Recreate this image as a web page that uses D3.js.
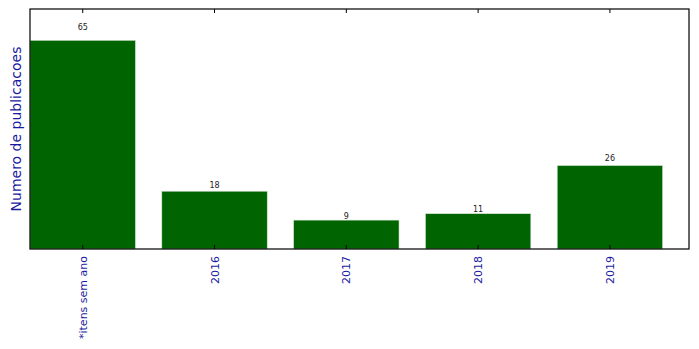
<!DOCTYPE html>
<html><head><meta charset="utf-8">
<script src="https://cdn.jsdelivr.net/npm/d3@7"></script>
<style>body{margin:0;background:#fff}svg{display:block}text{font-family:"DejaVu Sans",sans-serif}</style>
</head><body>
<script>
const categories = ["*itens sem ano", "2016", "2017", "2018", "2019"];
const values = [65, 18, 9, 11, 26];
const yLabel = "Numero de publicacoes";

const W = 699, H = 349;
const m = {left: 30, right: 10, top: 9, bottom: 100};
const iw = W - m.left - m.right, ih = H - m.top - m.bottom;

const svg = d3.select("body").append("svg").attr("width", W).attr("height", H);
const g = svg.append("g").attr("transform", `translate(${m.left},${m.top})`);

const bw = 0.8;
const x = d3.scaleLinear().domain([-bw / 2, categories.length - bw / 2]).range([0, iw]);
const y = d3.scaleLinear().domain([0, d3.max(values) * 1.15]).range([ih, 0]);

g.selectAll("rect.bar").data(values).join("rect").attr("class", "bar")
  .attr("x", (d, i) => x(i - bw / 2)).attr("width", x(bw) - x(0))
  .attr("y", d => y(d)).attr("height", d => ih - y(d))
  .attr("fill", "#006400").attr("stroke", "#d8e8d8").attr("stroke-width", 0.6);

g.selectAll("text.val").data(values).join("text").attr("class", "val")
  .attr("x", (d, i) => x(i)).attr("y", d => y(d * 1.05))
  .attr("text-anchor", "middle").attr("font-size", 8).attr("fill", "#222")
  .text(d => d);

// ticks inward top & bottom
const ticks = d3.range(categories.length);
g.selectAll("line.tb").data(ticks).join("line").attr("class", "tb")
  .attr("x1", d => x(d)).attr("x2", d => x(d)).attr("y1", ih).attr("y2", ih - 4)
  .attr("stroke", "#000").attr("stroke-width", 1);
g.selectAll("line.tt").data(ticks).join("line").attr("class", "tt")
  .attr("x1", d => x(d)).attr("x2", d => x(d)).attr("y1", 0).attr("y2", 4)
  .attr("stroke", "#000").attr("stroke-width", 1);

g.append("rect").attr("x", 0).attr("y", 0).attr("width", iw).attr("height", ih)
  .attr("fill", "none").attr("stroke", "#000").attr("stroke-width", 1.2);

g.selectAll("text.xl").data(categories).join("text").attr("class", "xl")
  .attr("transform", (d, i) => `translate(${x(i) + 4},${ih + 7}) rotate(-90)`)
  .attr("text-anchor", "end").attr("font-size", 11).attr("fill", "#1a1aa0")
  .text(d => d);

svg.append("text").attr("transform", `translate(21,${m.top + ih / 2}) rotate(-90)`)
  .attr("text-anchor", "middle").attr("font-size", 14).attr("fill", "#1a1aa0")
  .text(yLabel);
</script>
</body></html>
